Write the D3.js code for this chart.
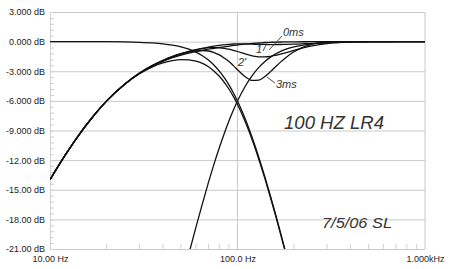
<!DOCTYPE html>
<html>
<head>
<meta charset="utf-8">
<script src="https://cdn.jsdelivr.net/npm/d3@7"></script>
<style>
  body { margin: 0; background: #fff; }
  svg { display: block; }
  .tick text { font-family: "Liberation Sans", Arial, sans-serif; font-size: 9px; fill: #222; }
  .hand { font-family: "Liberation Sans", Arial, sans-serif; font-style: italic; fill: #333; }
</style>
</head>
<body>
<svg id="chart" width="450" height="269"></svg>
<script>
// frequency points (Hz) the curves were read at
const freqHz = [10, 12, 14, 17, 20, 25, 30, 35, 40, 45, 50, 55, 60, 65, 70, 75, 80, 85, 90, 95,
  100, 110, 120, 130, 140, 150, 160, 170, 180, 200, 250, 300, 400, 500, 700, 1000];

// LR4 low pass, 100 Hz
const lowpassDb = [0, 0, 0, -0.01, -0.01, -0.03, -0.07, -0.13, -0.22, -0.35, -0.53, -0.76, -1.06, -1.43, -1.87, -2.39, -2.98, -3.65, -4.38, -5.18,
  -6.02, -7.83, -9.75, -11.72, -13.70, -15.65, -17.56, -19.42, -21.21, -24.61, -32.05, -38.3, -48.2, -55.9, -67.6, -80];
// sub: low pass with low frequency roll off
const subDb = [-13.98, -11.55, -9.66, -7.56, -6.03, -4.33, -3.26, -2.58, -2.16, -1.92, -1.82, -1.84, -1.98, -2.21, -2.55, -2.99, -3.51, -4.12, -4.80, -5.55,
  -6.36, -8.12, -9.99, -11.93, -13.87, -15.81, -17.70, -19.54, -21.32, -24.7, -32.1, -38.3, -48.2, -55.9, -67.6, -80];
// LR4 high pass, 100 Hz
const highpassDb = [-80, -73.7, -68.3, -61.6, -55.9, -48.2, -41.9, -36.6, -32.1, -28.1, -24.6, -21.5, -18.81, -16.40, -14.26, -12.38, -10.74, -9.30, -8.04, -6.96,
  -6.02, -4.52, -3.42, -2.61, -2.01, -1.57, -1.23, -0.98, -0.79, -0.53, -0.22, -0.11, -0.03, -0.01, 0, 0];
// summed responses, sub delayed 0 / 1 / 2 / 3 ms
const sum0msDb = [-13.98, -11.55, -9.66, -7.56, -6.03, -4.32, -3.22, -2.49, -1.99, -1.63, -1.37, -1.16, -1.01, -0.88, -0.76, -0.68, -0.59, -0.53, -0.46, -0.39,
  -0.34, -0.25, -0.19, -0.14, -0.09, -0.07, -0.05, -0.04, -0.03, -0.02, -0.01, 0, 0, 0, 0, 0];
const sum1msDb = [-13.98, -11.55, -9.66, -7.56, -6.03, -4.32, -3.21, -2.46, -1.94, -1.56, -1.27, -1.03, -0.85, -0.69, -0.55, -0.45, -0.37, -0.32, -0.27, -0.24,
  -0.23, -0.23, -0.25, -0.28, -0.28, -0.30, -0.29, -0.29, -0.28, -0.26, -0.18, -0.12, -0.06, -0.03, -0.01, 0];
const sum2msDb = [-13.98, -11.55, -9.66, -7.56, -6.03, -4.32, -3.19, -2.44, -1.91, -1.51, -1.22, -0.99, -0.82, -0.69, -0.61, -0.60, -0.62, -0.68, -0.77, -0.88,
  -1.00, -1.25, -1.44, -1.54, -1.54, -1.49, -1.38, -1.26, -1.14, -0.89, -0.44, -0.20, -0.03, 0, 0, 0];
const sum3msDb = [-13.98, -11.55, -9.66, -7.56, -6.03, -4.32, -3.18, -2.42, -1.89, -1.50, -1.22, -1.03, -0.93, -0.90, -0.95, -1.11, -1.34, -1.67, -2.02, -2.43,
  -2.84, -3.56, -3.93, -3.89, -3.54, -3.04, -2.52, -2.05, -1.65, -1.03, -0.25, -0.03, 0, 0, 0, 0];

const dbTicks = [3, 0, -3, -6, -9, -12, -15, -18, -21];
const dbTickLabels = ["3.000 dB", "0.000 dB", "-3.000 dB", "-6.000 dB", "-9.000 dB", "-12.00 dB", "-15.00 dB", "-18.00 dB", "-21.00 dB"];
const freqTicks = [10, 100, 1000];
const freqTickLabels = ["10.00 Hz", "100.0 Hz", "1.000kHz"];
const freqMinor = [20, 30, 40, 50, 60, 70, 80, 90, 200, 300, 400, 500, 600, 700, 800, 900];

const svg = d3.select('#chart');
const plotLeft = 50, plotRight = 425, plotTop = 12, plotBottom = 249;

const x = d3.scaleLog().domain([10, 1000]).range([plotLeft, plotRight]);
const y = d3.scaleLinear().domain([-21, 3]).range([plotBottom, plotTop]);

// horizontal grid + dB labels
const yAxis = svg.append('g')
  .attr('transform', `translate(${plotLeft},0)`)
  .call(d3.axisLeft(y).tickValues(dbTicks).tickSize(-(plotRight - plotLeft)).tickPadding(5)
    .tickFormat((d, i) => dbTickLabels[i]));
yAxis.select('.domain').remove();
yAxis.selectAll('line').attr('stroke', '#c9c9c9');

// minor ticks on the left edge
const yMinor = svg.append('g')
  .attr('transform', `translate(${plotLeft},0)`)
  .call(d3.axisRight(y).tickValues(d3.range(0, 41).map(i => -21 + i * 0.6)).tickSize(4).tickFormat(''));
yMinor.select('.domain').attr('stroke', '#d0d0d0');
yMinor.selectAll('line').attr('stroke', '#cfcfcf');

// frequency labels
const xAxis = svg.append('g')
  .attr('transform', `translate(0,${plotBottom})`)
  .call(d3.axisBottom(x).tickValues(freqTicks).tickSize(0).tickPadding(7)
    .tickFormat((d, i) => freqTickLabels[i]));
xAxis.select('.domain').remove();

// vertical grid at decades
svg.append('g').selectAll('line')
  .data([100, 1000])
  .join('line')
  .attr('x1', d => x(d)).attr('x2', d => x(d))
  .attr('y1', plotTop).attr('y2', plotBottom)
  .attr('stroke', '#c9c9c9');

// minor frequency ticks
svg.append('g').selectAll('line')
  .data(freqMinor)
  .join('line')
  .attr('x1', d => x(d)).attr('x2', d => x(d))
  .attr('y1', plotBottom).attr('y2', plotBottom - 5)
  .attr('stroke', '#cfcfcf');

svg.append('clipPath').attr('id', 'plotclip')
  .append('rect')
  .attr('x', plotLeft).attr('y', plotTop - 2)
  .attr('width', plotRight - plotLeft).attr('height', plotBottom - plotTop + 2);

const line = d3.line()
  .x((d, i) => x(freqHz[i]))
  .y(d => y(d))
  .curve(d3.curveMonotoneX);

const curves = [lowpassDb, subDb, highpassDb, sum0msDb, sum1msDb, sum2msDb, sum3msDb];
svg.append('g').attr('clip-path', 'url(#plotclip)')
  .selectAll('path')
  .data(curves)
  .join('path')
  .attr('d', d => line(d))
  .attr('fill', 'none')
  .attr('stroke', '#111')
  .attr('stroke-width', 1.3);

// handwritten notes
const notes = [
  { text: '0ms', x: 283, y: 36, size: 11 },
  { text: '1', x: 256, y: 53, size: 11 },
  { text: "2'", x: 238, y: 66, size: 11 },
  { text: '3ms', x: 276, y: 88, size: 11 },
  { text: '100 HZ LR4', x: 284, y: 129, size: 18, len: 100 },
  { text: '7/5/06 SL', x: 322, y: 228, size: 15, len: 70 }
];
svg.append('g').selectAll('text')
  .data(notes)
  .join('text')
  .attr('class', 'hand')
  .attr('x', d => d.x).attr('y', d => d.y)
  .attr('font-size', d => d.size)
  .each(function(d) {
    if (d.len) d3.select(this).attr('textLength', d.len).attr('lengthAdjust', 'spacingAndGlyphs');
  })
  .text(d => d.text);

// leader strokes
svg.append('g').selectAll('line')
  .data([[282, 36, 269, 50], [263, 51, 266, 45], [267, 77, 275, 83]])
  .join('line')
  .attr('x1', d => d[0]).attr('y1', d => d[1])
  .attr('x2', d => d[2]).attr('y2', d => d[3])
  .attr('stroke', '#333').attr('stroke-width', 0.9);
</script>
</body>
</html>
